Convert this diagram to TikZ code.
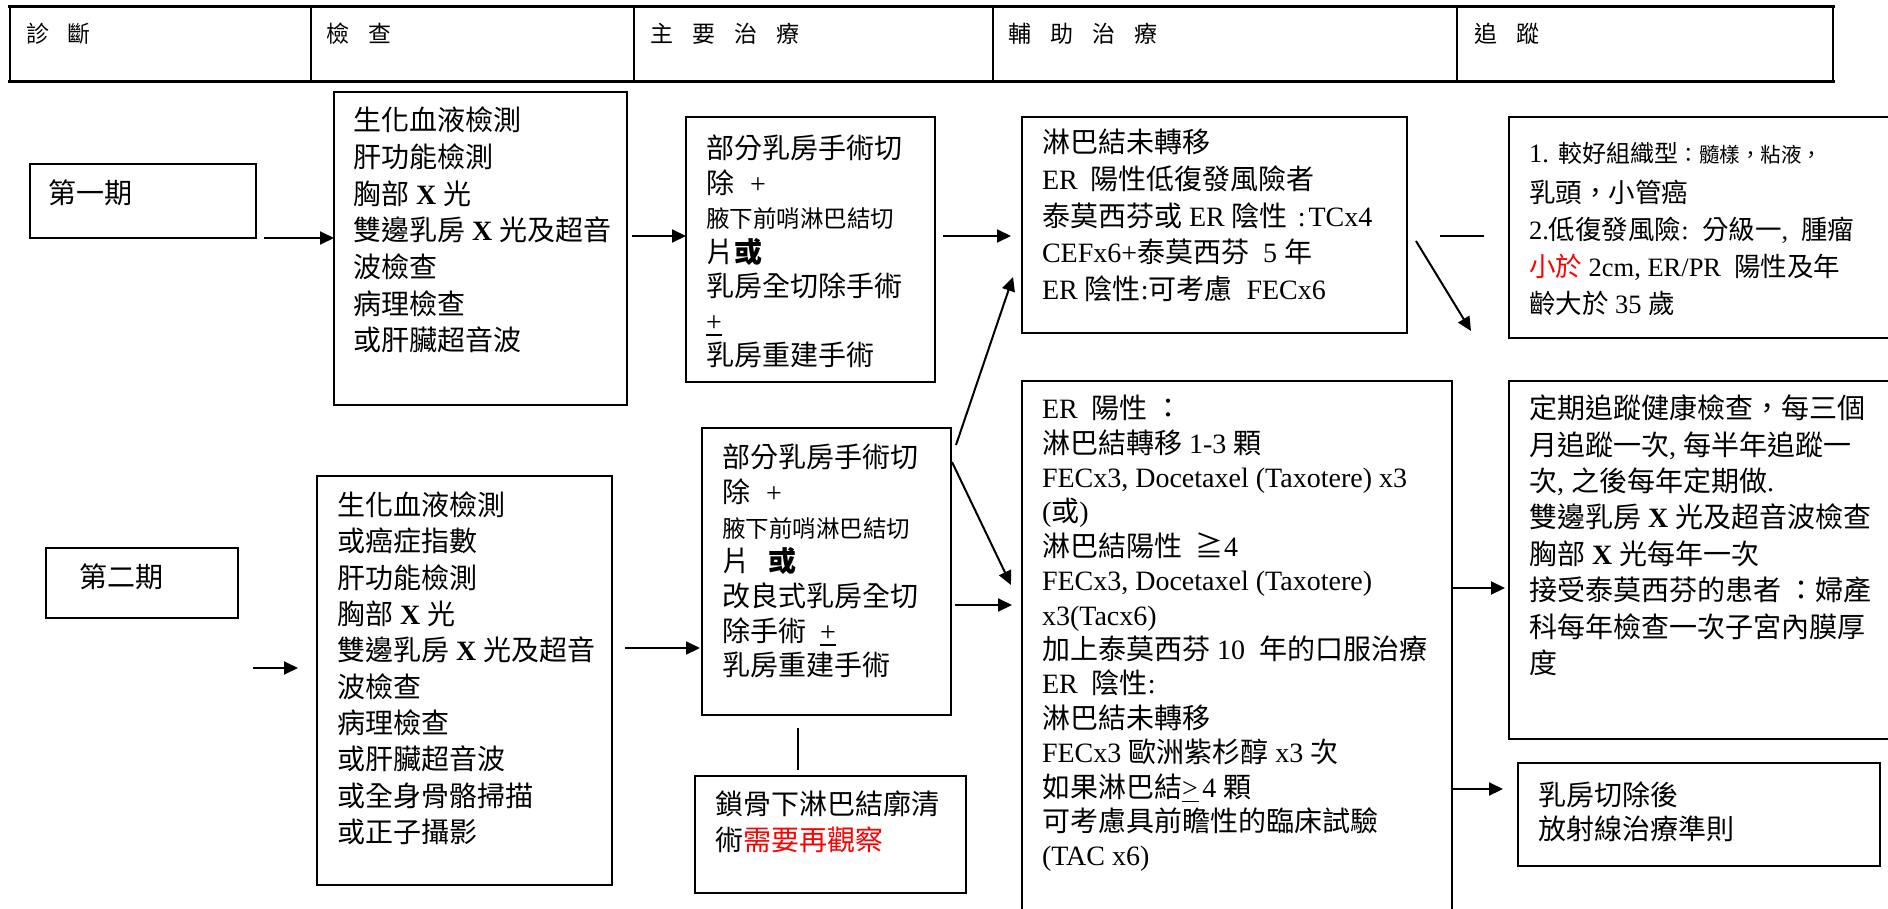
\documentclass[tikz,border=0pt]{standalone}
\usepackage{fontspec}
\setmainfont{Liberation Serif}
\newfontfamily\cjkf{Noto Sans CJK TC}
\usetikzlibrary{arrows.meta,calc}
\XeTeXinterchartokenstate=1
\newXeTeXintercharclass\cjkcls
\newcount\cjkcnt
\cjkcnt=0
\loop \XeTeXcharclass\cjkcnt=0 \advance\cjkcnt by 1 \ifnum\cjkcnt<"2E80 \repeat
\cjkcnt="2E80
\loop \XeTeXcharclass\cjkcnt=\cjkcls \advance\cjkcnt by 1 \ifnum\cjkcnt<"A000 \repeat
\cjkcnt="FF00
\loop \XeTeXcharclass\cjkcnt=\cjkcls \advance\cjkcnt by 1 \ifnum\cjkcnt<"FFF0 \repeat
\XeTeXcharclass"2267=\cjkcls
\XeTeXinterchartoks 0 \cjkcls = {\cjkf}
\XeTeXinterchartoks 4095 \cjkcls = {\cjkf}
\XeTeXinterchartoks \cjkcls 0 = {\rmfamily}
\XeTeXinterchartoks \cjkcls 4095 = {\rmfamily}
\newcommand\ts{\rule{0pt}{26pt}}
\newcommand\ulplus{\leavevmode\rlap{\rule[-5pt]{16pt}{1.8pt}}+}
\newcommand\ulgt{\leavevmode\rlap{\rule[-5pt]{17pt}{1.5pt}}>}
\tikzset{
  box/.style={draw, line width=1.7pt, inner sep=0pt, outer sep=0pt, anchor=north west},
  txt/.style={anchor=north west, inner sep=0pt, outer sep=0pt, align=left, font=\fontsize{28}{#1}\selectfont},
  hdr/.style={anchor=base west, inner sep=0pt, outer sep=0pt, font=\fontsize{23}{23}\selectfont},
  arr/.style={line width=2pt, -{Triangle[length=14pt,width=13pt]}},
  ln/.style={line width=2pt},
}
\begin{document}
\begin{tikzpicture}[x=1pt,y=-1pt]
\useasboundingbox (0,0) rectangle (1888,908);
\clip (0,0) rectangle (1888,908);
% header table
\draw[line width=1.3pt] (10,6) -- (10,81) (311,6) -- (311,81) (634,6) -- (634,81)
  (993,6) -- (993,81) (1457,6) -- (1457,81) (1833,6) -- (1833,81);
\draw[line width=3pt] (8,6) -- (1835,6) (8,81) -- (1835,81);
\node[hdr] (h1) at (26,42) {診\hspace{19pt}斷};
\node[hdr] (h2) at (326,42) {檢\hspace{19pt}查};
\node[hdr] (h3) at (650,42) {主\hspace{19pt}要\hspace{19pt}治\hspace{19pt}療};
\node[hdr] (h4) at (1008,42) {輔\hspace{19pt}助\hspace{19pt}治\hspace{19pt}療};
\node[hdr] (h5) at (1474,42) {追\hspace{19pt}蹤};
% boxes
\node[box, minimum width=226pt, minimum height=74pt] (p1) at (30,164) {};
\node[box, minimum width=192pt, minimum height=70pt] (p2) at (46,548) {};
\node[box, minimum width=293pt, minimum height=313pt] (k1) at (334,92) {};
\node[box, minimum width=295pt, minimum height=409pt] (k2) at (317,476) {};
\node[box, minimum width=249pt, minimum height=265pt] (m1) at (686,117) {};
\node[box, minimum width=249pt, minimum height=287pt] (m2) at (702,428) {};
\node[box, minimum width=271pt, minimum height=117pt] (c1) at (695,776) {};
\node[box, minimum width=385pt, minimum height=216pt] (f1) at (1022,117) {};
\node[box, minimum width=430pt, minimum height=540pt] (f2) at (1022,381) {};
\node[box, minimum width=390pt, minimum height=221pt] (t1) at (1509,117) {};
\node[box, minimum width=390pt, minimum height=358pt] (t2) at (1509,381) {};
\node[box, minimum width=362pt, minimum height=103pt] (r1) at (1518,763) {};
% texts
\node[txt=36] (p1t) at (48,177.6) {\ts 第一期};
\node[txt=36] (p2t) at (79,561.6) {\ts 第二期};
\node[txt=36.7] (k1t) at (353,104.6) {\ts 生化血液檢測\\
肝功能檢測\\
胸部 \textbf{X} 光\\
雙邊乳房 \textbf{X} 光及超音\\
波檢查\\
病理檢查\\
或肝臟超音波};
\node[txt=36.3] (k2t) at (337,489.6) {\ts 生化血液檢測\\
或癌症指數\\
肝功能檢測\\
胸部 \textbf{X} 光\\
雙邊乳房 \textbf{X} 光及超音\\
波檢查\\
病理檢查\\
或肝臟超音波\\
或全身骨骼掃描\\
或正子攝影};
\node[txt=34.5] (m1t) at (706,132.6) {\ts 部分乳房手術切\\
除\hspace{16pt}+\\
{\fontsize{23.5}{34.5}\selectfont 腋下前哨淋巴結切}\\
片\textbf{或}\\
乳房全切除手術\\
\ulplus\\
乳房重建手術};
\node[txt=34.7] (m2t) at (722,441.6) {\ts 部分乳房手術切\\
除\hspace{16pt}+\\
{\fontsize{23.5}{34.7}\selectfont 腋下前哨淋巴結切}\\
片\hspace{18pt}\textbf{或}\\
改良式乳房全切\\
除手術\hspace{14pt}\ulplus\\
乳房重建手術};
\node[txt=36] (c1t) at (715,788) {\ts 鎖骨下淋巴結廓清\\
術\textcolor{red}{需要再觀察}};
\node[txt=36.7] (f1t) at (1042,126.6) {\ts 淋巴結未轉移\\
ER\hspace{13pt}陽性低復發風險者\\
泰莫西芬或 ER 陰性\hspace{10pt}:\hspace{3pt}TCx4\\
CEFx6+泰莫西芬\ \ 5 年\\
ER 陰性:可考慮\ \ FECx6};
\node[txt=34.4] (f2t) at (1042,392.6) {\ts ER\ \ 陽性 ：\\
淋巴結轉移 1-3 顆\\
FECx3, Docetaxel (Taxotere) x3\\
(或)\\
淋巴結陽性\ \ ≧4\\
FECx3, Docetaxel (Taxotere)\\
x3(Tacx6)\\
加上泰莫西芬 10\ \ 年的口服治療\\
ER\ \ 陰性:\\
淋巴結未轉移\\
FECx3 歐洲紫杉醇 x3 次\\
如果淋巴結\ulgt\,4 顆\\
可考慮具前瞻性的臨床試驗\\
(TAC x6)};
\node[txt=37, font=\fontsize{26.5}{37}\selectfont] (t1t) at (1529,136) {\ts 1.\hspace{10pt}{\fontsize{24}{37}\selectfont 較好組織型}{\fontsize{20.5}{37}\selectfont ：髓樣，粘液，}\\[3pt]
乳頭，小管癌\\
2.低復發風險:\ \ 分級一,\ \ 腫瘤\\
\textcolor{red}{小於} 2cm, ER/PR\ \ 陽性及年\\
齡大於 35 歲};
\node[txt=36.4] (t2t) at (1529,392.6) {\ts 定期追蹤健康檢查，每三個\\
月追蹤一次, 每半年追蹤一\\
次, 之後每年定期做.\\
雙邊乳房 \textbf{X} 光及超音波檢查\\
胸部 \textbf{X} 光每年一次\\
接受泰莫西芬的患者\ ：婦產\\
科每年檢查一次子宮內膜厚\\
度};
\node[txt=33.5] (r1t) at (1538,779.6) {\ts 乳房切除後\\
放射線治療準則};
% connectors
\coordinate (a2s) at (253,668);
\coordinate (a2e) at (298,668);
\draw[arr] ($(p1.south east)+(8,0)$) -- (p1.south east -| k1.west);
\draw[arr] (a2s) -- (a2e);
\draw[arr] ($(k1.east|-0,236)+(5,0)$) -- (m1.west|-0,236);
\draw[arr] ($(m1.east|-0,236)+(8,0)$) -- ($(f1.west|-0,236)+(-11,0)$);
\draw[arr] ($(k2.east|-0,648)+(13,0)$) -- ($(m2.west|-0,648)+(-2,0)$);
\draw[arr] ($(m2.north east)+(5,17)$) -- ($(f1.south west)+(-9,-56)$);
\draw[arr] ($(m2.north east)+(1,34)$) -- ($(f2.west|-0,585)+(-11,0)$);
\draw[arr] ($(m2.east|-0,605)+(4,0)$) -- ($(f2.west|-0,605)+(-10,0)$);
\draw[arr] ($(f1.east|-0,241)+(9,0)$) -- ($(t1.west|-0,331)+(-38,0)$);
\draw[ln] ($(t1.west|-0,236)+(-69,0)$) -- ($(t1.west|-0,236)+(-25,0)$);
\draw[arr] (f2.east|-0,588) -- ($(t2.west|-0,588)+(-4,0)$);
\draw[arr] (f2.east|-0,789) -- ($(r1.west|-0,789)+(-15,0)$);
\draw[ln] ($(m2.south west)+(96,13)$) -- ($(c1.north west)+(103,-6)$);
\end{tikzpicture}
\end{document}
